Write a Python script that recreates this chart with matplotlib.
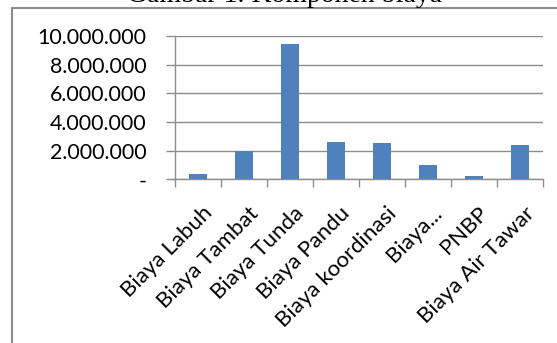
import matplotlib.pyplot as plt
from matplotlib.patches import Rectangle
from matplotlib.ticker import FixedLocator, FuncFormatter
from matplotlib.transforms import ScaledTranslation

categories = ["Biaya Labuh", "Biaya Tambat", "Biaya Tunda", "Biaya Pandu",
              "Biaya koordinasi", "Biaya...", "PNBP", "Biaya Air Tawar"]
values = [350000, 2000000, 9430000, 2600000, 2530000, 1020000, 260000, 2360000]
y_ticks = [0, 2000000, 4000000, 6000000, 8000000, 10000000]


def rupiah(v, pos):
    if v == 0:
        return "-"
    return f"{int(v):,}".replace(",", ".")


W, H = 557, 343
fig = plt.figure(figsize=(W / 100, H / 100), dpi=100)

# grey chart frame (cut off on the right and bottom)
fig.patches.append(Rectangle((11.5 / W, -0.1), 1.2, (H - 8.5) / H + 0.1,
                             transform=fig.transFigure, fill=False,
                             edgecolor="#8c8c8c", linewidth=1.5))

# caption above, mostly cropped away
fig.text(285 / W, 1 - 2.5 / H, "Gambar 1. Komponen biaya", ha="center",
         va="baseline", fontsize=20, family="Liberation Serif")

left, right, top, bottom = 175, 543, 36, 179.3
ax = fig.add_axes([left / W, 1 - bottom / H, (right - left) / W, (bottom - top) / H])

x = list(range(len(categories)))
ax.bar(x, values, width=0.4, color="#4f81bd", zorder=3)

ax.set_xlim(-0.5, len(categories) - 0.5)
ax.set_ylim(0, 10000000)

ax.yaxis.set_major_locator(FixedLocator(y_ticks))
ax.yaxis.set_major_formatter(FuncFormatter(rupiah))
ax.grid(axis="y", color="#8c8c8c", linewidth=1, zorder=0)

for s in ["top", "right"]:
    ax.spines[s].set_visible(False)
for s in ["left", "bottom"]:
    ax.spines[s].set_color("#8c8c8c")
    ax.spines[s].set_linewidth(1)

ax.tick_params(axis="y", direction="out", length=6.5, width=1, color="#8c8c8c",
               labelsize=15.4, pad=14)
for lab in ax.get_yticklabels():
    lab.set_family("Lato")

ax.set_xticks(x)
ax.set_xticks([i - 0.5 for i in range(len(categories) + 1)], minor=True)
ax.tick_params(axis="x", which="major", length=0, pad=17)
ax.tick_params(axis="x", which="minor", direction="out", length=6, width=1,
               color="#8c8c8c")
ax.set_xticklabels(categories, rotation=45, ha="right", va="top",
                   rotation_mode="anchor", fontsize=16, family="Lato")
shift = ScaledTranslation(4 / 100, 0, fig.dpi_scale_trans)
for lab in ax.get_xticklabels():
    lab.set_transform(lab.get_transform() + shift)

fig.savefig("out.png", dpi=100)
plt.close()
